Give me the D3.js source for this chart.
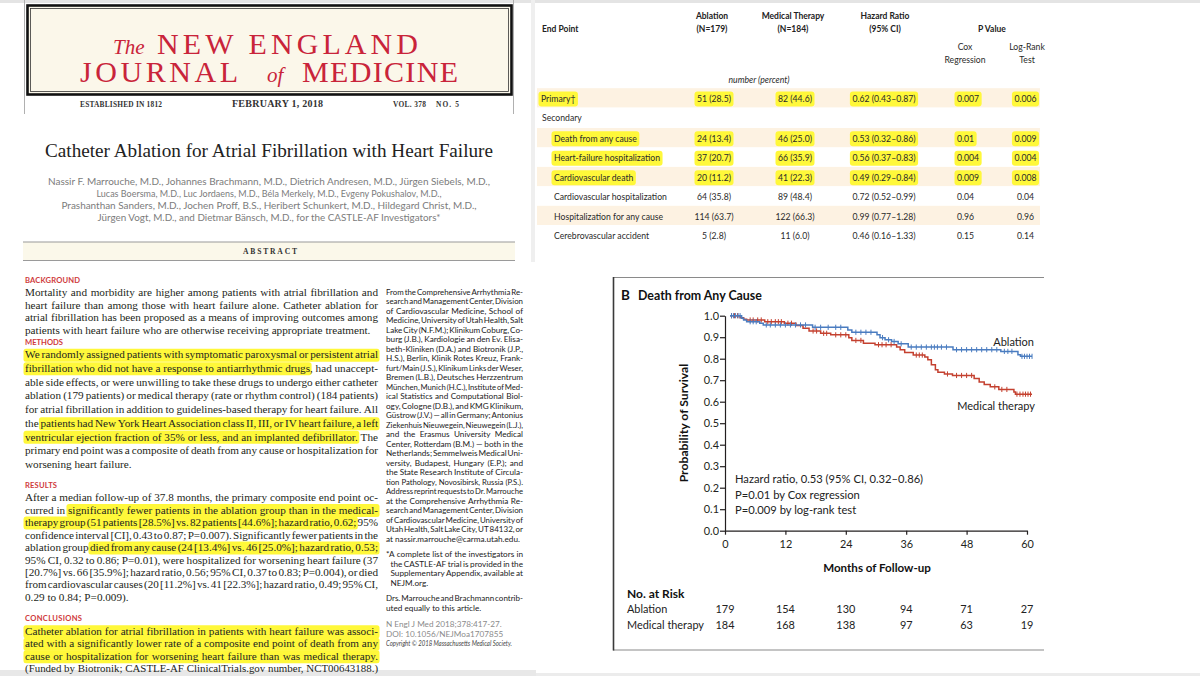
<!DOCTYPE html>
<html>
<head>
<meta charset="utf-8">
<script src="https://cdn.jsdelivr.net/npm/d3@7"></script>
<style>
html, body { margin: 0; padding: 0; background: #ffffff; overflow: hidden; }
svg { display: block; }
</style>
</head>
<body>
<svg id="chart" width="1200" height="676"></svg>
<script>
/* ======================= DATA ======================= */
const journalWords = ["The", "NEW ENGLAND", "JOURNAL", "of", "MEDICINE"];
const mastheadInfo = ["ESTABLISHED IN 1812", "FEBRUARY 1, 2018", "VOL. 378", "NO. 5"];
const articleTitle = "Catheter Ablation for Atrial Fibrillation with Heart Failure";
const authorLines = [
  "Nassir F. Marrouche, M.D., Johannes Brachmann, M.D., Dietrich Andresen, M.D., Jürgen Siebels, M.D.,",
  "Lucas Boersma, M.D., Luc Jordaens, M.D., Béla Merkely, M.D., Evgeny Pokushalov, M.D.,",
  "Prashanthan Sanders, M.D., Jochen Proff, B.S., Heribert Schunkert, M.D., Hildegard Christ, M.D.,",
  "Jürgen Vogt, M.D., and Dietmar Bänsch, M.D., for the CASTLE-AF Investigators*"
];
const abstractLabel = "ABSTRACT";
const sectionHeads = ["BACKGROUND", "METHODS", "RESULTS", "CONCLUSIONS"];
// {...} marks highlighted text
const backgroundText = [
  "Mortality and morbidity are higher among patients with atrial fibrillation and",
  "heart failure than among those with heart failure alone. Catheter ablation for",
  "atrial fibrillation has been proposed as a means of improving outcomes among",
  "patients with heart failure who are otherwise receiving appropriate treatment."
];
const methodsText = [
  "{We randomly assigned patients with symptomatic paroxysmal or persistent atrial",
  "fibrillation who did not have a response to antiarrhythmic drugs}, had unaccept-",
  "able side effects, or were unwilling to take these drugs to undergo either catheter",
  "ablation (179 patients) or medical therapy (rate or rhythm control) (184 patients)",
  "for atrial fibrillation in addition to guidelines-based therapy for heart failure. All",
  "the {patients had New York Heart Association class II, III, or IV heart failure, a left",
  "ventricular ejection fraction of 35% or less, and an implanted defibrillator.} The",
  "primary end point was a composite of death from any cause or hospitalization for",
  "worsening heart failure."
];
const resultsText = [
  "After a median follow-up of 37.8 months, the primary composite end point oc-",
  "curred in {significantly fewer patients in the ablation group than in the medical-",
  "therapy group (51 patients [28.5%] vs. 82 patients [44.6%]; hazard ratio, 0.62;} 95%",
  "confidence interval [CI], 0.43 to 0.87; P=0.007). Significantly fewer patients in the",
  "ablation group {died from any cause (24 [13.4%] vs. 46 [25.0%]; hazard ratio, 0.53;}",
  "95% CI, 0.32 to 0.86; P=0.01), were hospitalized for worsening heart failure (37",
  "[20.7%] vs. 66 [35.9%]; hazard ratio, 0.56; 95% CI, 0.37 to 0.83; P=0.004), or died",
  "from cardiovascular causes (20 [11.2%] vs. 41 [22.3%]; hazard ratio, 0.49; 95% CI,",
  "0.29 to 0.84; P=0.009)."
];
const conclusionsText = [
  "{Catheter ablation for atrial fibrillation in patients with heart failure was associ-",
  "ated with a significantly lower rate of a composite end point of death from any",
  "cause or hospitalization for worsening heart failure than was medical therapy.}",
  "(Funded by Biotronik; CASTLE-AF ClinicalTrials.gov number, NCT00643188.)"
];
const affiliationText = [
  "From the Comprehensive Arrhythmia Re-",
  "search and Management Center, Division",
  "of Cardiovascular Medicine, School of",
  "Medicine, University of Utah Health, Salt",
  "Lake City (N.F.M.); Klinikum Coburg, Co-",
  "burg (J.B.), Kardiologie an den Ev. Elisa-",
  "beth-Kliniken (D.A.) and Biotronik (J.P.,",
  "H.S.), Berlin, Klinik Rotes Kreuz, Frank-",
  "furt/Main (J.S.), Klinikum Links der Weser,",
  "Bremen (L.B.), Deutsches Herzzentrum",
  "München, Munich (H.C.), Institute of Med-",
  "ical Statistics and Computational Biol-",
  "ogy, Cologne (D.B.), and KMG Klinikum,",
  "Güstrow (J.V.) — all in Germany; Antonius",
  "Ziekenhuis Nieuwegein, Nieuwegein (L.J.),",
  "and the Erasmus University Medical",
  "Center, Rotterdam (B.M.) — both in the",
  "Netherlands; Semmelweis Medical Uni-",
  "versity, Budapest, Hungary (E.P.); and",
  "the State Research Institute of Circula-",
  "tion Pathology, Novosibirsk, Russia (P.S.)."
];
const reprintText = [
  "Address reprint requests to Dr. Marrouche",
  "at the Comprehensive Arrhythmia Re-",
  "search and Management Center, Division",
  "of Cardiovascular Medicine, University of",
  "Utah Health, Salt Lake City, UT 84132, or",
  "at nassir.marrouche@carma.utah.edu."
];
const footnoteText = [
  "*A complete list of the investigators in",
  "the CASTLE-AF trial is provided in the",
  "Supplementary Appendix, available at",
  "NEJM.org."
];
const contributionText = [
  "Drs. Marrouche and Brachmann contrib-",
  "uted equally to this article."
];
const citationText = [
  "N Engl J Med 2018;378:417-27.",
  "DOI: 10.1056/NEJMoa1707855",
  "Copyright © 2018 Massachusetts Medical Society."
];

// ---- Table of end points ----
const endPointHead = "End Point";
const groupHeads = [["Ablation", "(N=179)"], ["Medical Therapy", "(N=184)"], ["Hazard Ratio", "(95% CI)"]];
const pValueHead = "P Value";
const pValueSubHeads = [["Cox", "Regression"], ["Log-Rank", "Test"]];
const unitsLabel = "number (percent)";
const secondaryLabel = "Secondary";
const endPoints = ["Primary†", "Death from any cause", "Heart-failure hospitalization", "Cardiovascular death",
  "Cardiovascular hospitalization", "Hospitalization for any cause", "Cerebrovascular accident"];
const ablationEvents = [51, 24, 37, 20, 64, 114, 5];
const ablationPercent = [28.5, 13.4, 20.7, 11.2, 35.8, 63.7, 2.8];
const medicalEvents = [82, 46, 66, 41, 89, 122, 11];
const medicalPercent = [44.6, 25.0, 35.9, 22.3, 48.4, 66.3, 6.0];
const hazardRatio = [0.62, 0.53, 0.56, 0.49, 0.72, 0.99, 0.46];
const hazardLower = [0.43, 0.32, 0.37, 0.29, 0.52, 0.77, 0.16];
const hazardUpper = [0.87, 0.86, 0.83, 0.84, 0.99, 1.28, 1.33];
const pCox = ["0.007", "0.01", "0.004", "0.009", "0.04", "0.96", "0.15"];
const pLogRank = ["0.006", "0.009", "0.004", "0.008", "0.04", "0.96", "0.14"];
const highlightedRows = [true, true, true, true, false, false, false];

// ---- Kaplan-Meier panel ----
const panelLetter = "B";
const panelTitle = "Death from Any Cause";
const yAxisTitle = "Probability of Survival";
const xAxisTitle = "Months of Follow-up";
const monthTicks = [0, 12, 24, 36, 48, 60];
const survivalTicks = [0.0, 0.1, 0.2, 0.3, 0.4, 0.5, 0.6, 0.7, 0.8, 0.9, 1.0];
const seriesNames = ["Ablation", "Medical therapy"];
const ablationTime = [1.0, 3.3, 3.7, 4.3, 6.9, 7.6, 17.4, 24.4, 25.2, 30.2, 30.8, 31.8, 33.1, 34.4, 36.4, 45.3, 54.8, 58.2, 58.7, 61.0];
const ablationSurv = [1.0, 0.988, 0.98, 0.972, 0.965, 0.957, 0.946, 0.934, 0.923, 0.911, 0.898, 0.888, 0.88, 0.869, 0.854, 0.842, 0.834, 0.818, 0.811, 0.811];
const medicalTime = [1.0, 3.0, 3.7, 4.3, 7.9, 11.8, 14.1, 15.5, 16.7, 19.0, 21.0, 24.6, 25.2, 27.5, 29.8, 34.1, 34.8, 35.7, 37.4, 39.7, 40.3, 41.0, 41.8, 42.3, 43.6, 45.2, 49.5, 50.5, 51.5, 52.7, 54.4, 57.4, 57.7, 61.0];
const medicalSurv = [1.0, 0.99, 0.983, 0.98, 0.972, 0.965, 0.954, 0.942, 0.929, 0.918, 0.911, 0.898, 0.885, 0.872, 0.865, 0.854, 0.842, 0.829, 0.817, 0.808, 0.795, 0.772, 0.749, 0.737, 0.729, 0.722, 0.708, 0.692, 0.68, 0.669, 0.657, 0.645, 0.635, 0.635];
const ablationCensor = [1.3, 1.7, 2.1, 2.6, 3.0, 5.0, 5.6, 6.2, 8.2, 9.0, 10.0, 11.0, 12.0, 13.0, 14.0, 15.0, 16.0, 17.9, 19.0, 20.5, 22.0, 23.0, 26.0, 27.0, 28.0, 29.0, 31.3, 32.5, 33.6, 35.0, 37.0, 38.0, 39.0, 40.0, 41.0, 41.6, 42.2, 43.0, 44.0, 46.0, 47.0, 48.0, 49.0, 50.0, 51.0, 52.0, 53.0, 54.0, 55.5, 56.2, 57.0, 59.0, 59.5, 60.0, 60.5, 61.0];
const medicalCensor = [1.3, 1.9, 2.5, 5.0, 5.6, 6.5, 7.2, 8.5, 9.2, 10.0, 10.6, 11.2, 12.5, 13.2, 17.5, 18.2, 19.6, 20.2, 22.0, 23.0, 24.0, 26.0, 27.0, 30.5, 31.2, 32.0, 33.0, 38.0, 38.6, 39.2, 44.2, 46.0, 47.0, 48.0, 49.0, 53.6, 55.0, 56.0, 58.0, 58.6, 59.2, 59.7, 60.2, 60.7];
const statLines = ["Hazard ratio, 0.53 (95% CI, 0.32–0.86)", "P=0.01 by Cox regression", "P=0.009 by log-rank test"];
const atRiskTitle = "No. at Risk";
const atRiskAblation = [179, 154, 130, 94, 71, 27];
const atRiskMedical = [184, 168, 138, 97, 63, 19];

/* ======================= HELPERS ======================= */
const SERIF = "'Liberation Serif', 'DejaVu Serif', serif";
const SANS = "Lato, 'Open Sans', 'Liberation Sans', sans-serif";
const INK = "#231f20";
const LOGO_RED = "#c9243a";
const HEAD_RED = "#cf3a3c";
const HL = "#fff83a";
const BLUE = "#4a7cc0";
const RED = "#c4402f";

const svg = d3.select("#chart");
const mctx = document.createElement("canvas").getContext("2d");
function fontStr(f) { return `${f.style || "normal"} ${f.weight || "normal"} ${f.size}px ${f.family}`; }
function tw(s, f) { mctx.font = fontStr(f); return mctx.measureText(s).width; }
// horizontally condense glyphs of a text selection
function squeeze(sel, k) {
  sel.each(function () {
    const w = this.getComputedTextLength();
    if (w > 0) { this.setAttribute("textLength", w * k); this.setAttribute("lengthAdjust", "spacingAndGlyphs"); }
  });
  return sel;
}

// justified paragraph renderer with highlight support
function drawBlock(parent, lines, o) {
  const hlLayer = parent.append("g");
  const txLayer = parent.append("g");
  let state = false;
  const sp = tw(" ", o.font);
  lines.forEach((raw, i) => {
    const justify = o.justifyAll ? true : (i < lines.length - 1);
    const y = o.y + i * o.lh;
    const words = raw.split(" ").filter(d => d.length).map(tok => {
      let clean = "", flags = [];
      for (const ch of tok) {
        if (ch === "{") { state = true; continue; }
        if (ch === "}") { state = false; continue; }
        clean += ch; flags.push(state);
      }
      return { clean, flags, after: state, w: tw(clean, o.font) };
    });
    const n = words.length;
    const sumW = d3.sum(words, d => d.w);
    let gap = sp, k = 1;
    if (justify && n > 1) {
      gap = (o.w - sumW) / (n - 1);
      if (gap < sp * 0.45) { gap = sp * 0.45; k = o.w / (sumW + gap * (n - 1)); }
    } else {
      const nat = sumW + sp * (n - 1);
      if (nat > o.w) k = o.w / nat;
    }
    let cx = 0;
    words.forEach(d => { d.x = cx; cx += d.w + gap; });
    const tf = `translate(${o.x},0) scale(${k},1)`;
    const t = txLayer.append("text").attr("transform", tf).attr("y", y)
      .style("font", fontStr(o.font)).attr("fill", o.fill);
    t.selectAll("tspan").data(words).join("tspan").attr("x", d => d.x).text(d => d.clean);
    const segs = [];
    words.forEach((d, j) => {
      const idx = d.flags.map((f, q) => f ? q : -1).filter(q => q >= 0);
      if (!idx.length) return;
      const a = idx[0], b = idx[idx.length - 1] + 1;
      const x0 = d.x + tw(d.clean.slice(0, a), o.font);
      const x1 = d.x + tw(d.clean.slice(0, b), o.font);
      const prev = segs[segs.length - 1];
      if (prev && prev.j === j - 1 && prev.endFull && words[j - 1].after && a === 0) {
        prev.x1 = x1; prev.j = j; prev.endFull = (b === d.clean.length);
      } else segs.push({ x0, x1, j, endFull: b === d.clean.length });
    });
    hlLayer.append("g").attr("transform", tf).selectAll("rect").data(segs).join("rect")
      .attr("x", d => d.x0 - 1.5).attr("width", d => d.x1 - d.x0 + 3)
      .attr("y", y - o.font.size * 0.86).attr("height", o.font.size * 1.16)
      .attr("rx", 2.5).attr("fill", HL);
  });
}

/* ======================= PAGE FRAME ======================= */
svg.append("rect").attr("width", 1200).attr("height", 676).attr("fill", "#ffffff");
svg.append("rect").attr("x", 0).attr("y", 0).attr("width", 1200).attr("height", 3).attr("fill", "#e4e4e4");
svg.append("rect").attr("x", 0).attr("y", 670).attr("width", 536).attr("height", 6).attr("fill", "#e8e8e8");
svg.append("rect").attr("x", 536).attr("y", 673).attr("width", 664).attr("height", 3).attr("fill", "#ececec");
svg.append("rect").attr("x", 531).attr("y", 0).attr("width", 4).attr("height", 262).attr("fill", "#efefef");

/* ======================= MASTHEAD ======================= */
const mast = svg.append("g");
mast.append("line").attr("x1", 24.5).attr("x2", 24.5).attr("y1", 0).attr("y2", 114).attr("stroke", "#b0b0b0");
mast.append("line").attr("x1", 513.5).attr("x2", 513.5).attr("y1", 0).attr("y2", 114).attr("stroke", "#b0b0b0");
mast.append("rect").attr("x", 27.5).attr("y", 5.5).attr("width", 484).attr("height", 89)
  .attr("fill", "#fbf7ea").attr("stroke", "#111").attr("stroke-width", 2.6);
mast.append("rect").attr("x", 30.5).attr("y", 8.5).attr("width", 478).attr("height", 83)
  .attr("fill", "none").attr("stroke", "#333").attr("stroke-width", 0.8);

const logoSpec = [
  { t: journalWords[0], x: 113, y: 54, size: 21, italic: true },
  { t: journalWords[1], x: 157, y: 54, size: 30, len: 261 },
  { t: journalWords[2], x: 80, y: 81.7, size: 30, len: 158 },
  { t: journalWords[3], x: 267, y: 81.7, size: 21, italic: true },
  { t: journalWords[4], x: 302, y: 81.7, size: 30, len: 156 }
];
logoSpec.forEach(d => {
  const t = mast.append("text").attr("x", d.x).attr("y", d.y).text(d.t)
    .attr("fill", LOGO_RED).style("font-family", SERIF).style("font-size", d.size + "px")
    .style("font-style", d.italic ? "italic" : "normal");
  if (d.len) t.attr("textLength", d.len).attr("lengthAdjust", "spacing");
});
const infoSpec = [
  { x: 80, len: 82, size: 7.4 }, { x: 232, len: 91, size: 10 }, { x: 393, len: 33, size: 7.4 }, { x: 436, len: 23, size: 7.4 }
];
mastheadInfo.forEach((s, i) => {
  mast.append("text").attr("x", infoSpec[i].x).attr("y", 107.3).text(s)
    .attr("fill", "#333").style("font-family", SERIF).style("font-weight", "bold")
    .style("font-size", infoSpec[i].size + "px")
    .attr("textLength", infoSpec[i].len).attr("lengthAdjust", "spacing");
});

/* ======================= TITLE & AUTHORS ======================= */
svg.append("text").attr("x", 269).attr("y", 157).attr("text-anchor", "middle").text(articleTitle)
  .attr("fill", "#222").style("font-family", SERIF).style("font-size", "19px")
  .attr("textLength", 448).attr("lengthAdjust", "spacingAndGlyphs");
const authorLen = [442, 345, 415, 343];
authorLines.forEach((s, i) => {
  svg.append("text").attr("x", 269).attr("y", 185 + i * 12.1).attr("text-anchor", "middle").text(s)
    .attr("fill", "#7c7c7c").style("font-family", SANS).style("font-size", "10.2px")
    .attr("textLength", authorLen[i]).attr("lengthAdjust", "spacingAndGlyphs");
});

/* ======================= ABSTRACT ======================= */
svg.append("rect").attr("x", 23).attr("y", 242).attr("width", 492).attr("height", 18.5).attr("fill", "#fbf8ea");
svg.append("line").attr("x1", 23).attr("x2", 515).attr("y1", 242).attr("y2", 242).attr("stroke", "#9a9a9a").attr("stroke-width", 1.2);
svg.append("line").attr("x1", 23).attr("x2", 515).attr("y1", 260.5).attr("y2", 260.5).attr("stroke", "#9a9a9a").attr("stroke-width", 1.2);
svg.append("text").attr("x", 270).attr("y", 253.6).attr("text-anchor", "middle").text(abstractLabel)
  .attr("fill", "#333").style("font-family", SERIF).style("font-weight", "bold").style("font-size", "7.6px")
  .attr("textLength", 54).attr("lengthAdjust", "spacing");

const sections = [backgroundText, methodsText, resultsText, conclusionsText];
const headCenters = [280, 342, 485, 618.6];
const sectionLeading = [12.45, 13.7, 12.45, 12.45];
const headLen = [55, 38, 32, 57];
const abs = svg.append("g");
sections.forEach((lines, i) => {
  abs.append("text").attr("x", 25).attr("y", headCenters[i] + 2.7).text(sectionHeads[i])
    .attr("fill", HEAD_RED).style("font-family", SANS).style("font-weight", "bold").style("font-size", "7.6px")
    .attr("textLength", headLen[i]).attr("lengthAdjust", "spacing");
  drawBlock(abs.append("g"), lines, {
    x: 25, w: 353, y: headCenters[i] + 12.7 + 3.6, lh: sectionLeading[i],
    font: { family: SERIF, size: 11.2 }, fill: INK
  });
});

const side = svg.append("g");
const sideFont = { family: SANS, size: 8.2 };
const sideInk = "#222";
drawBlock(side.append("g"), affiliationText, { x: 386, w: 137, y: 294.8, lh: 9.5, font: sideFont, fill: sideInk });
drawBlock(side.append("g"), reprintText, { x: 386, w: 137, y: 294.8 + 21 * 9.5, lh: 9.5, font: sideFont, fill: sideInk });
drawBlock(side.append("g"), footnoteText.slice(0, 1), { x: 386, w: 137, y: 557, lh: 9.5, font: sideFont, fill: sideInk, justifyAll: true });
drawBlock(side.append("g"), footnoteText.slice(1), { x: 390.5, w: 132.5, y: 566.5, lh: 9.5, font: sideFont, fill: sideInk });
drawBlock(side.append("g"), contributionText, { x: 386, w: 137, y: 601, lh: 9.8, font: sideFont, fill: sideInk });
side.append("text").attr("x", 386).attr("y", 627).text(citationText[0]).attr("fill", "#8b8b8b")
  .style("font-family", SANS).style("font-size", "8.2px");
side.append("text").attr("x", 386).attr("y", 636.5).text(citationText[1]).attr("fill", "#8b8b8b")
  .style("font-family", SANS).style("font-size", "8.2px");
side.append("text").attr("x", 386).attr("y", 646).text(citationText[2]).attr("fill", "#444")
  .style("font-family", SANS).style("font-style", "italic").style("font-size", "7.2px")
  .attr("textLength", 126).attr("lengthAdjust", "spacingAndGlyphs");

/* ======================= TABLE ======================= */
const tbl = svg.append("g");
const colAbl = 714, colMed = 795, colHR = 884, colCox = 957, colLR = 1025.5;
const TK = 0.85;
const rowCenter = i => i === 0 ? 97.8 : 137.6 + (i - 1) * 19.45;
const headStyle = t => t.style("font-family", SANS).style("font-weight", "bold").style("font-size", "10px").attr("fill", "#222");
const bodyStyle = t => t.style("font-family", SANS).style("font-size", "10.2px").attr("fill", "#2a2a2a");

squeeze(tbl.append("text").attr("x", 542).attr("y", 31.7).text(endPointHead).call(headStyle), TK);
const ghX = [712, 793, 885];
groupHeads.forEach((h, i) => {
  h.forEach((s, j) => squeeze(tbl.append("text").attr("x", ghX[i]).attr("y", 18.5 + j * 13.2)
    .attr("text-anchor", "middle").text(s).call(headStyle), TK));
});
squeeze(tbl.append("text").attr("x", 992).attr("y", 31.7).attr("text-anchor", "middle").text(pValueHead).call(headStyle), TK);
const psX = [965, 1027];
pValueSubHeads.forEach((h, i) => h.forEach((s, j) =>
  squeeze(tbl.append("text").attr("x", psX[i]).attr("y", 49.5 + j * 13).attr("text-anchor", "middle").text(s).call(bodyStyle), TK)));
squeeze(tbl.append("text").attr("x", 759).attr("y", 83).attr("text-anchor", "middle").text(unitsLabel)
  .call(bodyStyle).style("font-style", "italic"), TK);

const bandLayer = tbl.append("g"), hlLayer = tbl.append("g"), txtLayer = tbl.append("g");
endPoints.forEach((ep, i) => {
  const cy = rowCenter(i);
  if (i === 0 || i % 2 === 1) {
    bandLayer.append("rect").attr("x", 537).attr("y", cy - 9.6).attr("width", 503).attr("height", 19.2).attr("fill", "#fdf2e2");
  }
  const base = cy + 4.3;
  const cells = [
    { x: i === 0 ? 541 : 554, a: "start", t: ep },
    { x: colAbl, a: "middle", t: `${ablationEvents[i]} (${ablationPercent[i].toFixed(1)})` },
    { x: colMed, a: "middle", t: `${medicalEvents[i]} (${medicalPercent[i].toFixed(1)})` },
    { x: colHR, a: "middle", t: `${hazardRatio[i].toFixed(2)} (${hazardLower[i].toFixed(2)}–${hazardUpper[i].toFixed(2)})` },
    { x: colCox, a: "start", t: pCox[i] },
    { x: colLR, a: "middle", t: pLogRank[i] }
  ];
  cells.forEach(c => {
    const te = txtLayer.append("text").attr("x", c.x).attr("y", base).attr("text-anchor", c.a).text(c.t).call(bodyStyle);
    const w = te.node().getComputedTextLength() * TK;
    squeeze(te, TK);
    if (highlightedRows[i]) {
      const x0 = c.a === "start" ? c.x : c.x - w / 2;
      hlLayer.append("rect").attr("x", x0 - 2.5).attr("width", w + 5)
        .attr("y", base - 10.6).attr("height", 15).attr("rx", 3).attr("fill", HL);
    }
  });
});
squeeze(tbl.append("text").attr("x", 542).attr("y", 121).text(secondaryLabel).call(bodyStyle), TK);

/* ======================= KAPLAN-MEIER PANEL ======================= */
const fig = svg.append("g");
fig.append("line").attr("x1", 613).attr("x2", 1044).attr("y1", 277.5).attr("y2", 277.5).attr("stroke", "#8a8a8a").attr("stroke-width", 1.2);
fig.append("line").attr("x1", 613).attr("x2", 1044).attr("y1", 650).attr("y2", 650).attr("stroke", "#8a8a8a").attr("stroke-width", 1.2);
fig.append("line").attr("x1", 613.5).attr("x2", 613.5).attr("y1", 277).attr("y2", 650.5).attr("stroke", "#3a3a3a").attr("stroke-width", 1.6);

fig.append("text").attr("x", 621).attr("y", 299.5).text(panelLetter)
  .style("font-family", SANS).style("font-weight", "bold").style("font-size", "13.5px").attr("fill", "#111");
fig.append("text").attr("x", 638).attr("y", 299.5).text(panelTitle)
  .style("font-family", SANS).style("font-weight", "bold").style("font-size", "12.4px").attr("fill", "#111");

const x = d3.scaleLinear().domain([0, 60]).range([725, 1027]);
const y = d3.scaleLinear().domain([0, 1]).range([530.7, 315.7]);

const gx = fig.append("g").attr("transform", `translate(0,${y(0)})`)
  .call(d3.axisBottom(x).tickValues(monthTicks).tickSize(4).tickSizeOuter(0));
const gy = fig.append("g").attr("transform", `translate(${x(0)},0)`)
  .call(d3.axisLeft(y).tickValues(survivalTicks).tickFormat(d3.format(".1f")).tickSize(5).tickSizeOuter(0));
[gx, gy].forEach(g => {
  g.attr("font-family", SANS).attr("font-size", 10.9);
  g.select(".domain").attr("stroke", INK).attr("stroke-width", 1.2);
  g.selectAll(".tick line").attr("stroke", INK).attr("stroke-width", 1.2);
  g.selectAll(".tick text").attr("fill", INK);
});
gx.selectAll(".tick text").attr("y", 10);
gy.selectAll(".tick text").attr("x", -6);

fig.append("text").attr("x", 877).attr("y", 572).attr("text-anchor", "middle").text(xAxisTitle)
  .style("font-family", SANS).style("font-weight", "bold").style("font-size", "11.6px").attr("fill", "#111");
fig.append("text").attr("transform", "translate(688,423) rotate(-90)").attr("text-anchor", "middle").text(yAxisTitle)
  .style("font-family", SANS).style("font-weight", "bold").style("font-size", "12.2px").attr("fill", "#111");

const line = d3.line().x(d => x(d.t)).y(d => y(d.s)).curve(d3.curveStepAfter);
const series = [
  { T: medicalTime, S: medicalSurv, C: medicalCensor, color: RED },
  { T: ablationTime, S: ablationSurv, C: ablationCensor, color: BLUE }
];
series.forEach(sr => {
  const pts = sr.T.map((t, i) => ({ t, s: sr.S[i] }));
  fig.append("path").datum(pts).attr("d", line).attr("fill", "none")
    .attr("stroke", sr.color).attr("stroke-width", 1.5);
  const survAt = t => sr.S[Math.max(0, d3.bisectRight(sr.T, t) - 1)];
  fig.append("g").selectAll("line").data(sr.C).join("line")
    .attr("x1", d => x(d)).attr("x2", d => x(d))
    .attr("y1", d => y(survAt(d)) - 2.6).attr("y2", d => y(survAt(d)) + 2.6)
    .attr("stroke", sr.color).attr("stroke-width", 1);
});

fig.append("text").attr("x", 1034).attr("y", 346).attr("text-anchor", "end").text(seriesNames[0])
  .style("font-family", SANS).style("font-size", "11px").attr("fill", "#222");
fig.append("text").attr("x", 1035).attr("y", 410).attr("text-anchor", "end").text(seriesNames[1])
  .style("font-family", SANS).style("font-size", "11px").attr("fill", "#222");

statLines.forEach((s, i) => {
  fig.append("text").attr("x", 735).attr("y", 483.3 + i * 15.4).text(s)
    .style("font-family", SANS).style("font-size", "11.2px").attr("fill", "#222");
});

fig.append("text").attr("x", 627).attr("y", 597.7).text(atRiskTitle)
  .style("font-family", SANS).style("font-weight", "bold").style("font-size", "12px").attr("fill", "#111");
[[seriesNames[0], atRiskAblation, 613.3], [seriesNames[1], atRiskMedical, 629]].forEach(([name, vals, yy]) => {
  fig.append("text").attr("x", 627).attr("y", yy).text(name)
    .style("font-family", SANS).style("font-size", "10.9px").attr("fill", "#222");
  fig.append("g").selectAll("text").data(vals).join("text")
    .attr("x", (d, i) => x(monthTicks[i])).attr("y", yy).attr("text-anchor", "middle").text(d => d)
    .style("font-family", SANS).style("font-size", "10.9px").attr("fill", "#222");
});
</script>
</body>
</html>
